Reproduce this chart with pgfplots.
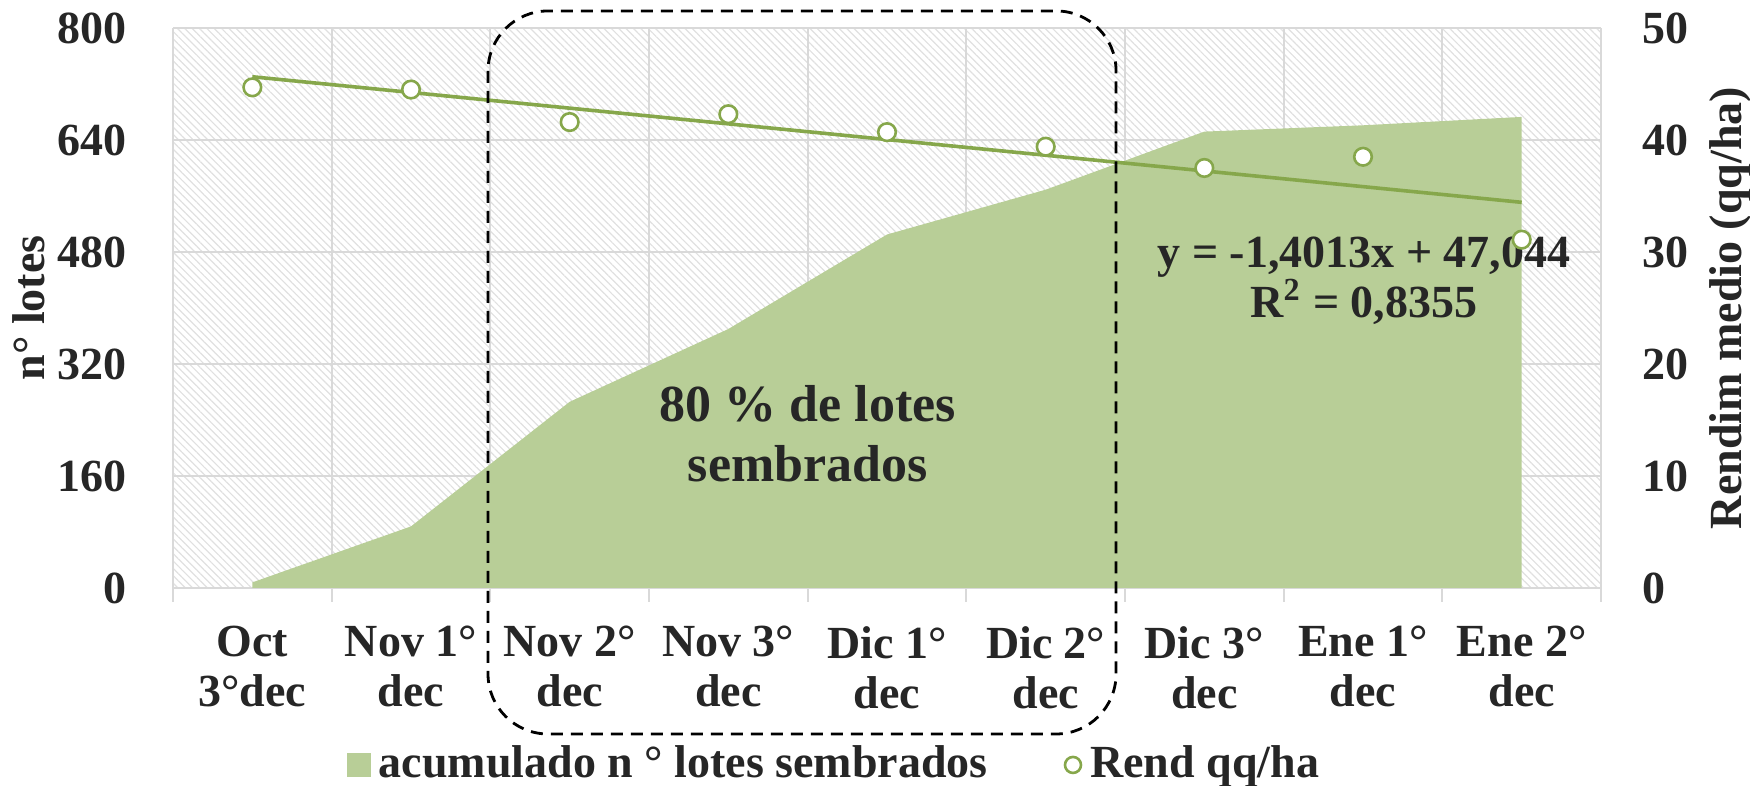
\documentclass[border=0pt]{standalone}
\usepackage{fontspec}
\setmainfont{Liberation Serif}
\usepackage{pgfplots}
\usepackage{pgfplotstable}
\pgfplotsset{compat=1.18}
\usetikzlibrary{patterns.meta}
\definecolor{areagreen}{HTML}{B8CE97}
\definecolor{linegreen}{HTML}{86A74B}
\definecolor{txt}{HTML}{262626}
\definecolor{gridgray}{HTML}{D9D9D9}

\pgfplotstableread{
x lotes
0 8
1 88
2 266
3 370
4 505
5 569
6 652
7 661
8 673
}\lotes
\pgfplotstableread{
x rend
0 44.7
1 44.5
2 41.6
3 42.3
4 40.7
5 39.4
6 37.5
7 38.5
8 31.1
}\rend

\newcommand{\tf}{\fontsize{11.5}{12.5}\selectfont\bfseries}

\begin{document}
\begin{tikzpicture}
\begin{axis}[
  name=ax,
  scale only axis, width=357pt, height=140pt,
  xmin=-0.5, xmax=8.5, ymin=0, ymax=800,
  axis background/.style={pattern={Lines[angle=-45,distance=1.3pt,line width=0.3pt]}, pattern color=gray!24},
  axis line style={draw=none},
  xtick={-0.5,0.5,...,8.5},
  x tick label as interval,
  xticklabels={{Oct\\3°dec},{Nov 1°\\dec},{Nov 2°\\dec},{Nov 3°\\dec},{Dic 1°\\dec},{Dic 2°\\dec},{Dic 3°\\dec},{Ene 1°\\dec},{Ene 2°\\dec}},
  xtick pos=bottom, ytick pos=left,
  tick align=outside,
  major tick length=3.5pt,
  xtick style={draw=gridgray, line width=0.5pt},
  ytick style={draw=none},
  ytick={0,160,...,800},
  xmajorgrids, ymajorgrids,
  major grid style={draw=gridgray, line width=0.5pt},
  xticklabel style={font=\tf, text=txt, align=center, yshift=-2.5pt},
  yticklabel style={font=\tf, text=txt, xshift=-4.7pt},
  /pgf/number format/assume math mode=true,
  ylabel={n° lotes},
  ylabel style={at={(axis description cs:-0.1008,0.5)}, anchor=center, font=\tf, text=txt},
  legend style={at={(axis description cs:0.465,-0.316)}, anchor=center, draw=none, fill=none,
    font=\tf, text=txt, legend columns=2, legend cell align=left,
    /tikz/every even column/.append style={column sep=17pt}},
]
\addplot[fill=areagreen, draw=none, forget plot] table[x=x,y=lotes]{\lotes} \closedcycle;
\addlegendimage{legend image code/.code={\fill[areagreen] (0pt,-2.8pt) rectangle (5.6pt,2.8pt);}}
\addlegendentry{acumulado n ° lotes sembrados}
\addlegendimage{legend image code/.code={\draw[linegreen, line width=0.65pt, fill=white] (2.5pt,0pt) circle (2pt);}}
\addlegendentry{Rend qq/ha}
\end{axis}

\begin{axis}[
  scale only axis, width=357pt, height=140pt,
  xmin=-0.5, xmax=8.5, ymin=0, ymax=50,
  axis y line*=right, hide x axis,
  y axis line style={draw=none},
  ytick={0,10,...,50}, ytick style={draw=none}, major tick length=0pt,
  yticklabel style={font=\tf, text=txt, xshift=6.9pt},
  /pgf/number format/assume math mode=true,
  ylabel={Rendim medio (qq/ha)},
  ylabel style={at={(axis description cs:1.0903,0.5)}, anchor=center, font=\tf, text=txt},
  clip=false,
]
\addplot[linegreen, line width=0.9pt] coordinates {(0,45.643) (8,34.432)};
\addplot[only marks, mark=*, mark size=2.2pt, mark options={draw=linegreen, fill=white, line width=0.65pt}] table[x=x,y=rend]{\rend};
\draw[black, line width=0.7pt, dash pattern=on 3pt off 2pt, rounded corners=15pt]
  (rel axis cs:0.2206,1.0304) rectangle (rel axis cs:0.6604,-0.2607);
\node[font=\fontsize{13}{15}\selectfont\bfseries, text=txt, align=center] at (axis cs:3.5,13.75) {80 \% de lotes\\sembrados};
\node[font=\tf, text=txt, align=center] at (axis cs:7.006,27.4) {y = -1,4013x + 47,044\\R\textsuperscript{2} = 0,8355};
\end{axis}
\pgfresetboundingbox
\path ([shift={(-43.25pt,-49.25pt)}]ax.south west) rectangle ([shift={(37.25pt,7pt)}]ax.north east);
\end{tikzpicture}
\end{document}
